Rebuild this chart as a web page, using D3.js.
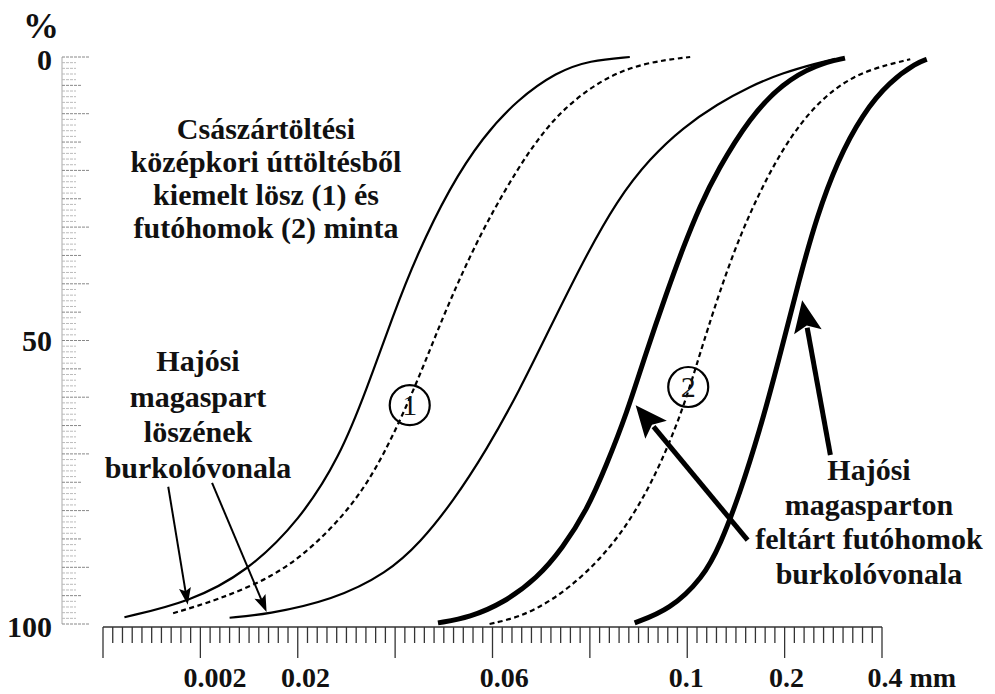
<!DOCTYPE html>
<html><head><meta charset="utf-8">
<script src="https://cdn.jsdelivr.net/npm/d3@7"></script>
<style>html,body{margin:0;padding:0;background:#fff;}svg{display:block;}text{font-family:"Liberation Serif","Times New Roman",Times,serif;font-weight:bold;fill:#111;}</style>
</head><body>
<svg id="c" width="995" height="694"></svg>
<script>
// x: position along the scanned grain-size axis (10 units per major tick); y: percent passing (0 at top)
const curveLoessLeft = [[2.2,98.8],[8.9,96.1],[14.8,90.8],[20.2,81.7],[24.3,70.6],[27.1,58.5],[29.8,45.5],[32.2,35.0],[35.6,23.0],[39.0,14.1],[42.5,7.6],[46.6,2.6],[50.0,0.6],[54.1,0]];
const curveSample1 = [[7.2,98.1],[11.7,95.8],[17.5,91.7],[21.6,86.4],[25.7,79.0],[28.8,70.5],[32.2,57.7],[34.9,45.8],[37.7,35.0],[40.1,27.0],[42.5,20.0],[44.6,14.6],[47.2,9.2],[51.3,3.8],[55.5,1.0],[60.3,0]];
const curveLoessRight = [[13.0,98.9],[16.8,98.3],[23.6,95.8],[29.2,91.0],[32.6,85.6],[35.9,78.5],[39.4,69.3],[42.8,58.7],[45.7,48.5],[49.3,36.0],[52.8,25.2],[56.2,17.8],[59.6,12.4],[63.1,8.3],[66.4,5.2],[69.8,2.8],[73.3,1.1],[75.2,0.3]];
const curveSandLeft = [[34.4,99.8],[37.7,98.8],[41.1,96.3],[44.6,91.9],[47.2,86.6],[49.7,79.9],[51.7,72.0],[53.8,62.8],[55.7,52.5],[57.9,41.5],[59.6,33.5],[61.3,26.3],[63.1,20.0],[66.4,10.7],[69.8,4.6],[73.3,1.3],[76.2,0.2]];
const curveSample2 = [[39.7,100],[42.8,98.8],[46.2,95.8],[49.7,91.0],[53.1,84.5],[55.9,76.6],[57.9,69.2],[59.5,62.2],[60.7,55.8],[61.9,49.0],[64.7,34.2],[68.2,20.8],[71.6,11.4],[75.0,5.5],[78.5,2.2],[82.9,0.4]];
const curveSandRight = [[54.6,99.8],[58.2,97.5],[61.6,91.9],[63.4,86.0],[65.4,77.0],[67.5,65.5],[69.0,56.0],[70.0,49.4],[71.6,38.6],[73.3,28.2],[75.4,18.4],[78.0,10.0],[80.8,4.3],[83.6,1.0],[84.6,0.4]];

const xTicks = d3.range(0, 81);
const xTickLabels = ["0.002","0.02","0.06","0.1","0.2","0.4 mm"];
const xTickLabelPos = [11.5,20.8,41.2,59.9,70.2,78.5];
const yTicks = d3.range(0, 101);
const yTickLabels = ["0","50","100"];
const yTickLabelVals = [0,50,100];

const titleLines = ["Császártöltési","középkori úttöltésből","kiemelt lösz (1) és","futóhomok (2) minta"];
const leftLabelLines = ["Hajósi","magaspart","löszének","burkolóvonala"];
const rightLabelLines = ["Hajósi","magasparton","feltárt futóhomok","burkolóvonala"];
const circleLabels = [{t:"1", x:31.5, y:61.4},{t:"2", x:60.1, y:58.2}];
const arrows = [
  {from:[6.7,75.8], to:[8.7,96.6], thick:false},
  {from:[11.2,75.1], to:[16.8,97.9], thick:false},
  {from:[66.2,85.2], to:[54.7,61.4], thick:true},
  {from:[74.7,70.2], to:[71.8,42.9], thick:true}
];

const svg = d3.select("#c");
const x = d3.scaleLinear().domain([0,80]).range([103,882]);
const y = d3.scaleLinear().domain([0,100]).range([57,624]);

// y axis (faint scanned ruler)
const yAx = svg.append("g");
yAx.append("line").attr("x1",62).attr("x2",62).attr("y1",y(0)).attr("y2",y(100)).attr("stroke","#aaa").attr("stroke-width",1);
yAx.selectAll("line.t").data(yTicks).join("line").attr("class","t")
  .attr("x1",62).attr("x2",d=> d%10===0?90:(d%5===0?82:76))
  .attr("y1",d=>y(d)).attr("y2",d=>y(d))
  .attr("stroke",d=>d%5===0?"#888":"#bbb").attr("stroke-width",1).attr("stroke-dasharray","3,1");
yAx.selectAll("text").data(yTickLabelVals).join("text")
  .attr("x",52).attr("y",(d)=>y(d)+ (d===50?10:13)).attr("text-anchor","end").attr("font-size",30)
  .text((d,i)=>yTickLabels[i]);
svg.append("text").attr("x",41).attr("y",38).attr("text-anchor","middle").attr("font-size",36).text("%");

// x axis
const xAx = svg.append("g");
xAx.append("line").attr("x1",x(0)).attr("x2",x(80)).attr("y1",627).attr("y2",627).attr("stroke","#333").attr("stroke-width",1.5);
xAx.selectAll("line.t").data(xTicks).join("line").attr("class","t")
  .attr("x1",d=>x(d)).attr("x2",d=>x(d)).attr("y1",627).attr("y2",d=>d%10===0?658:643)
  .attr("stroke","#333").attr("stroke-width",1.3);
xAx.selectAll("text").data(xTickLabels).join("text")
  .attr("x",(d,i)=>x(xTickLabelPos[i])).attr("y",687)
  .attr("text-anchor",(d,i)=>i===xTickLabels.length-1?"start":"middle")
  .attr("font-size",28).text(d=>d);

// curves
const line = d3.line().x(d=>x(d[0])).y(d=>y(d[1])).curve(d3.curveBasis);
const series = [
  {d:curveLoessLeft, w:2.2, dash:null},
  {d:curveSample1, w:2.2, dash:"5,3.5"},
  {d:curveLoessRight, w:2.2, dash:null},
  {d:curveSandLeft, w:5, dash:null},
  {d:curveSample2, w:2.2, dash:"5,3.5"},
  {d:curveSandRight, w:5, dash:null}
];
svg.append("g").selectAll("path").data(series).join("path")
  .attr("d",s=>line(s.d)).attr("fill","none").attr("stroke","#000")
  .attr("stroke-width",s=>s.w).attr("stroke-dasharray",s=>s.dash);

// circles with numbers
const cg = svg.append("g").selectAll("g").data(circleLabels).join("g");
cg.append("circle").attr("cx",d=>x(d.x)).attr("cy",d=>y(d.y)).attr("r",20).attr("fill","none").attr("stroke","#000").attr("stroke-width",2.2);
cg.append("text").attr("x",d=>x(d.x)).attr("y",d=>y(d.y)+10).attr("text-anchor","middle").attr("font-size",30).style("font-weight","normal").text(d=>d.t);

// arrows
const ag = svg.append("g");
arrows.forEach(a=>{
  const x1=x(a.from[0]), y1=y(a.from[1]), x2=x(a.to[0]), y2=y(a.to[1]);
  const ang=Math.atan2(y2-y1,x2-x1);
  const hl=a.thick?32:17, hw=a.thick?14:6;
  const bx=x2-hl*Math.cos(ang), by=y2-hl*Math.sin(ang);
  ag.append("line").attr("x1",x1).attr("y1",y1).attr("x2",bx+4*Math.cos(ang)).attr("y2",by+4*Math.sin(ang))
    .attr("stroke","#000").attr("stroke-width",a.thick?5:2);
  const px=-Math.sin(ang), py=Math.cos(ang);
  ag.append("path").attr("d",`M${x2},${y2}L${bx+hw*px},${by+hw*py}L${bx+hl*0.2*Math.cos(ang)},${by+hl*0.2*Math.sin(ang)}L${bx-hw*px},${by-hw*py}Z`).attr("fill","#000");
});

// text blocks
function block(lines, cx, y0, dy, fs){
  svg.append("g").selectAll("text").data(lines).join("text")
    .attr("x",cx).attr("y",(d,i)=>y0+i*dy).attr("text-anchor","middle").attr("font-size",fs).text(d=>d);
}
block(titleLines, 266, 139, 33, 30);
block(leftLabelLines, 198, 371, 35.5, 30);
block(rightLabelLines, 869, 480, 34.5, 30);
</script>
</body></html>
